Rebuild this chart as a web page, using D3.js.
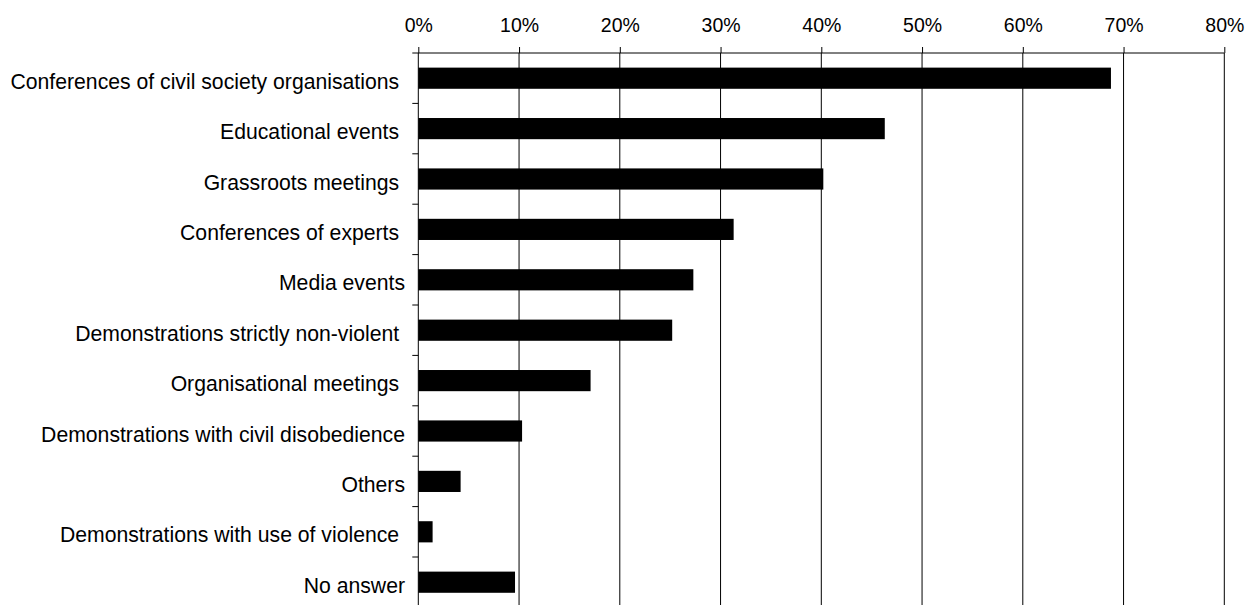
<!DOCTYPE html>
<html>
<head>
<meta charset="utf-8">
<script src="https://cdn.jsdelivr.net/npm/d3@7"></script>
<style>
  html, body { margin: 0; padding: 0; background: #fff; }
  svg { display: block; }
  text { font-family: "Liberation Sans", Arial, sans-serif; fill: #000; white-space: pre; }
</style>
</head>
<body>
<svg id="chart" width="1259" height="605"></svg>
<script>
const categories = [
  "Conferences of civil society organisations ",
  "Educational events ",
  "Grassroots meetings ",
  "Conferences of experts ",
  "Media events",
  "Demonstrations strictly non-violent ",
  "Organisational meetings ",
  "Demonstrations with civil disobedience",
  "Others",
  "Demonstrations with use of violence ",
  "No answer"
];
const values = [0.6875, 0.463, 0.402, 0.313, 0.273, 0.252, 0.171, 0.103, 0.042, 0.0142, 0.096];
const xTicks = [0, 0.1, 0.2, 0.3, 0.4, 0.5, 0.6, 0.7, 0.8];

(function () {
const svg = d3.select("#chart");
const mLeft = 418.3, mRight = 1224.3, mTop = 53, mBottom = 607.4;

const x = d3.scaleLinear().domain([0, 0.8]).range([mLeft, mRight]);
const y = d3.scaleBand().domain(categories).range([mTop, mBottom]).padding(0);
const bh = y.bandwidth() * 0.42;

// gridlines
svg.append("g").selectAll("line").data(xTicks.slice(1)).join("line")
  .attr("x1", d => x(d)).attr("x2", d => x(d))
  .attr("y1", mTop).attr("y2", mBottom)
  .attr("stroke", "#000").attr("stroke-width", 1);

// bars
svg.append("g").selectAll("rect").data(values).join("rect")
  .attr("x", x(0))
  .attr("y", (d, i) => y(categories[i]) + (y.bandwidth() - bh) / 2)
  .attr("width", d => x(d) - x(0))
  .attr("height", bh)
  .attr("fill", "#000");

// top axis
const xAxis = d3.axisTop(x).tickValues(xTicks).tickFormat(d3.format(".0%")).tickSize(6).tickPadding(15);
const gx = svg.append("g").attr("transform", `translate(0,${mTop})`).call(xAxis);
gx.select(".domain").attr("d", `M${mLeft - 6},0H${mRight}`).attr("stroke", "#000");
gx.selectAll(".tick line").attr("stroke", "#000");
gx.selectAll("text").attr("font-size", 19.5).attr("fill", "#000")
  .style("font-family", "Liberation Sans, Arial, sans-serif");

// left axis: line + ticks at band boundaries
svg.append("line").attr("x1", mLeft).attr("x2", mLeft).attr("y1", mTop).attr("y2", mBottom)
  .attr("stroke", "#000");
const boundaries = categories.map(c => y(c)).slice(1);
svg.append("g").selectAll("line").data(boundaries).join("line")
  .attr("x1", mLeft - 6).attr("x2", mLeft).attr("y1", d => d).attr("y2", d => d)
  .attr("stroke", "#000");

// category labels
svg.append("g").selectAll("text").data(categories).join("text")
  .attr("x", 405)
  .attr("y", d => y(d) + y.bandwidth() / 2 + 10.6)
  .attr("text-anchor", "end")
  .attr("font-size", 21.2)
  .text(d => d);
})();
</script>
</body>
</html>
